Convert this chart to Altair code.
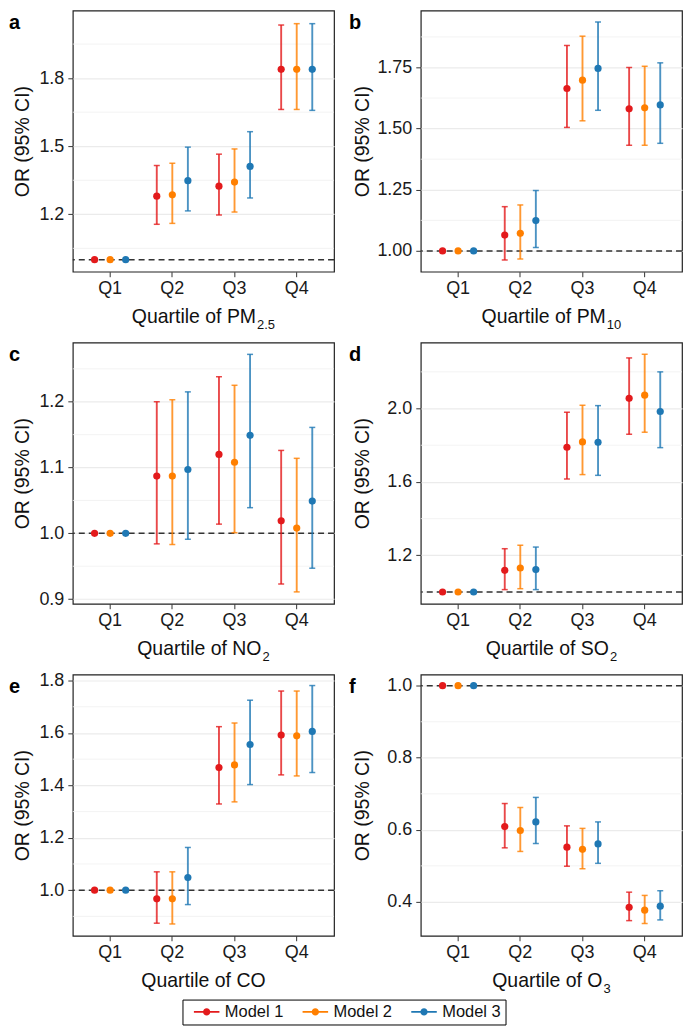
import altair as alt
import pandas as pd

quartiles = ["Q1", "Q2", "Q3", "Q4"]
models = ["Model 1", "Model 2", "Model 3"]
colors = ["#E31A1C", "#FF7F00", "#1F78B4"]
ref_value = [1.0]

# a: PM2.5
pm25_or = {"Model 1": [1.000, 1.280, 1.324, 1.839], "Model 2": [1.000, 1.286, 1.342, 1.839], "Model 3": [1.000, 1.348, 1.411, 1.839]}
pm25_lo = {"Model 1": [1.000, 1.156, 1.197, 1.662], "Model 2": [1.000, 1.160, 1.210, 1.662], "Model 3": [1.000, 1.215, 1.272, 1.658]}
pm25_hi = {"Model 1": [1.000, 1.415, 1.465, 2.034], "Model 2": [1.000, 1.425, 1.488, 2.040], "Model 3": [1.000, 1.496, 1.564, 2.040]}
# b: PM10
pm10_or = {"Model 1": [1.000, 1.065, 1.664, 1.581], "Model 2": [1.000, 1.072, 1.698, 1.585], "Model 3": [1.000, 1.124, 1.746, 1.597]}
pm10_lo = {"Model 1": [1.000, 0.963, 1.505, 1.432], "Model 2": [1.000, 0.967, 1.532, 1.432], "Model 3": [1.000, 1.014, 1.575, 1.440]}
pm10_hi = {"Model 1": [1.000, 1.181, 1.840, 1.750], "Model 2": [1.000, 1.188, 1.878, 1.755], "Model 3": [1.000, 1.247, 1.936, 1.769]}
# c: NO2
no2_or = {"Model 1": [1.000, 1.087, 1.120, 1.019], "Model 2": [1.000, 1.087, 1.108, 1.008], "Model 3": [1.000, 1.097, 1.149, 1.049]}
no2_lo = {"Model 1": [1.000, 0.984, 1.014, 0.923], "Model 2": [1.000, 0.983, 1.001, 0.911], "Model 3": [1.000, 0.991, 1.039, 0.947]}
no2_hi = {"Model 1": [1.000, 1.200, 1.238, 1.126], "Model 2": [1.000, 1.203, 1.225, 1.114], "Model 3": [1.000, 1.215, 1.272, 1.161]}
# d: SO2
so2_or = {"Model 1": [1.000, 1.118, 1.789, 2.056], "Model 2": [1.000, 1.131, 1.818, 2.073], "Model 3": [1.000, 1.122, 1.816, 1.984]}
so2_lo = {"Model 1": [1.000, 1.013, 1.616, 1.860], "Model 2": [1.000, 1.018, 1.640, 1.871], "Model 3": [1.000, 1.013, 1.636, 1.787]}
so2_hi = {"Model 1": [1.000, 1.236, 1.980, 2.276], "Model 2": [1.000, 1.255, 2.018, 2.296], "Model 3": [1.000, 1.245, 2.016, 2.200]}
# e: CO
co_or = {"Model 1": [1.000, 0.967, 1.468, 1.592], "Model 2": [1.000, 0.967, 1.478, 1.589], "Model 3": [1.000, 1.048, 1.556, 1.606]}
co_lo = {"Model 1": [1.000, 0.874, 1.329, 1.440], "Model 2": [1.000, 0.871, 1.337, 1.436], "Model 3": [1.000, 0.945, 1.403, 1.449]}
co_hi = {"Model 1": [1.000, 1.070, 1.624, 1.760], "Model 2": [1.000, 1.070, 1.638, 1.760], "Model 3": [1.000, 1.163, 1.725, 1.781]}
# f: O3
o3_or = {"Model 1": [1.000, 0.609, 0.552, 0.385], "Model 2": [1.000, 0.598, 0.546, 0.377], "Model 3": [1.000, 0.622, 0.561, 0.388]}
o3_lo = {"Model 1": [1.000, 0.550, 0.499, 0.348], "Model 2": [1.000, 0.540, 0.492, 0.340], "Model 3": [1.000, 0.562, 0.507, 0.350]}
o3_hi = {"Model 1": [1.000, 0.673, 0.611, 0.427], "Model 2": [1.000, 0.662, 0.604, 0.418], "Model 3": [1.000, 0.690, 0.622, 0.431]}

panels = [
    dict(letter="a", name="PM", sub="2.5", o=pm25_or, lo=pm25_lo, hi=pm25_hi,
         domain=[0.947, 2.098], ticks=[1.2, 1.5, 1.8], minor=[1.05, 1.35, 1.65, 1.95], fmt=".1f"),
    dict(letter="b", name="PM", sub="10", o=pm10_or, lo=pm10_lo, hi=pm10_hi,
         domain=[0.915, 1.983], ticks=[1.0, 1.25, 1.5, 1.75], minor=[1.125, 1.375, 1.625, 1.875], fmt=".2f"),
    dict(letter="c", name="NO", sub="2", o=no2_or, lo=no2_lo, hi=no2_hi,
         domain=[0.893, 1.290], ticks=[0.9, 1.0, 1.1, 1.2], minor=[0.95, 1.05, 1.15, 1.25], fmt=".1f"),
    dict(letter="d", name="SO", sub="2", o=so2_or, lo=so2_lo, hi=so2_hi,
         domain=[0.936, 2.36], ticks=[1.2, 1.6, 2.0], minor=[1.0, 1.4, 1.8, 2.2], fmt=".1f"),
    dict(letter="e", name="CO", sub="", o=co_or, lo=co_lo, hi=co_hi,
         domain=[0.826, 1.823], ticks=[1.0, 1.2, 1.4, 1.6, 1.8], minor=[0.9, 1.1, 1.3, 1.5, 1.7], fmt=".1f"),
    dict(letter="f", name="O", sub="3", o=o3_or, lo=o3_lo, hi=o3_hi,
         domain=[0.306, 1.031], ticks=[0.4, 0.6, 0.8, 1.0], minor=[0.5, 0.7, 0.9], fmt=".1f"),
]

W, H = 262, 262
FONT = "Liberation Sans"
TITLE_FS = 19.5
SUB_FS = 13
CW = {"Q": .778, "u": .556, "a": .556, "r": .333, "t": .278, "i": .222, "l": .222, "e": .556,
      " ": .278, "o": .556, "f": .278, "P": .667, "M": .833, "N": .722, "O": .778, "S": .667,
      "C": .722, "0": .556, "1": .556, "2": .556, "3": .556, "5": .556, ".": .278}


def twidth(s, fs):
    return sum(CW.get(c, .556) for c in s) * fs


LEG_PATH = ("M-1.6,-0.1L1.6,-0.1L1.6,0.1L-1.6,0.1Z"
            "M0.45,0A0.45,0.45,0,1,1,-0.45,0A0.45,0.45,0,1,1,0.45,0Z")


def panel(spec, col):
    rows = []
    for m in models:
        for i, q in enumerate(quartiles):
            rows.append({"Quartile": q, "Model": m, "OR": spec["o"][m][i],
                         "lo": spec["lo"][m][i], "hi": spec["hi"][m][i]})
    df = pd.DataFrame(rows)
    ext = 34 if col == 0 else 42
    yscale = alt.Scale(domain=spec["domain"], nice=False, zero=False)
    yaxis = alt.Axis(title="OR (95% CI)", values=spec["ticks"], format=spec["fmt"],
                     minExtent=ext, maxExtent=ext, titlePadding=6)
    x = alt.X("Quartile:N", sort=quartiles,
              scale=alt.Scale(type="band", paddingInner=0, paddingOuter=0.1),
              axis=alt.Axis(title=None, bandPosition=0.5, labelAngle=0, labelPadding=3))
    xoff = alt.XOffset("Model:N", sort=models, scale=alt.Scale(type="point", padding=2.68))
    # data-driven domains (ascending = model order) so these do not merge with the colour legend
    stroke = alt.Stroke("Model:N", scale=alt.Scale(range=colors), legend=None)
    fill = alt.Fill("Model:N", scale=alt.Scale(range=colors), legend=None)
    color_leg = alt.Color("Model:N", sort=models, scale=alt.Scale(domain=models, range=colors),
                          legend=alt.Legend(title=None, orient="none", legendX=110, legendY=992,
                                            direction="horizontal", symbolType=LEG_PATH,
                                            symbolSize=256, symbolOffset=12, labelOffset=10,
                                            columnPadding=11, padding=4, strokeColor="#000000",
                                            labelFontSize=16.5, labelColor="#111111",
                                            symbolStrokeWidth=0, symbolOpacity=1))

    minor = alt.Chart(pd.DataFrame({"v": spec["minor"]})).mark_rule(
        color="#F0F0F0", strokeWidth=0.8).encode(y=alt.Y("v:Q", scale=yscale, axis=yaxis))
    ref = alt.Chart(pd.DataFrame({"v": ref_value})).mark_rule(
        color="#333333", strokeWidth=1.5, strokeDash=[6, 4]).encode(
        y=alt.Y("v:Q", scale=yscale, axis=yaxis))
    base = alt.Chart(df)
    bars = base.mark_rule(strokeWidth=1.9, opacity=0.8).encode(
        x=x, xOffset=xoff, y=alt.Y("lo:Q", scale=yscale, axis=yaxis), y2="hi:Q", stroke=stroke)
    cap_hi = base.mark_tick(orient="horizontal", size=6, thickness=1.5, opacity=0.8).encode(
        x=x, xOffset=xoff, y=alt.Y("hi:Q", scale=yscale, axis=yaxis), fill=fill)
    cap_lo = base.mark_tick(orient="horizontal", size=6, thickness=1.5, opacity=0.8).encode(
        x=x, xOffset=xoff, y=alt.Y("lo:Q", scale=yscale, axis=yaxis), fill=fill)
    pts = base.mark_point(filled=True, size=52, opacity=1).encode(
        x=x, xOffset=xoff, y=alt.Y("OR:Q", scale=yscale, axis=yaxis), color=color_leg)

    main = "Quartile of " + spec["name"]
    mw = twidth(main, TITLE_FS)
    sw = twidth(spec["sub"], SUB_FS) + (1 if spec["sub"] else 0)
    xr = W / 2 - (mw + sw) / 2 + mw
    t_main = alt.Chart(pd.DataFrame({"t": [main]})).mark_text(
        align="right", baseline="alphabetic", fontSize=TITLE_FS, color="#111111").encode(
        text="t:N", x=alt.value(xr), y=alt.value(H + 51))
    layers = [minor, ref, bars, cap_hi, cap_lo, pts, t_main]
    if spec["sub"]:
        t_sub = alt.Chart(pd.DataFrame({"t": [spec["sub"]]})).mark_text(
            align="left", baseline="alphabetic", fontSize=SUB_FS, color="#111111").encode(
            text="t:N", x=alt.value(xr + 1), y=alt.value(H + 57))
        layers.append(t_sub)
    lx = -64 if col == 0 else -72
    t_letter = alt.Chart(pd.DataFrame({"t": [spec["letter"]]})).mark_text(
        align="left", baseline="alphabetic", fontSize=20, fontWeight="bold", color="#000000").encode(
        text="t:N", x=alt.value(lx), y=alt.value(19))
    layers.append(t_letter)
    return alt.layer(*layers).properties(width=W, height=H)


charts = [panel(p, i % 2) for i, p in enumerate(panels)]

chart = alt.concat(*charts, columns=2, spacing={"row": 71, "column": 87}, bounds="flush").properties(
    padding={"left": 0, "top": 0, "right": 0, "bottom": 0}
).configure(font=FONT).configure_view(
    stroke="#222222", strokeWidth=1.2
).configure_axis(
    labelFont=FONT, titleFont=FONT, labelFontSize=18, labelColor="#1a1a1a",
    titleFontSize=TITLE_FS, titleFontWeight="normal", titleColor="#111111",
    domain=False, tickSize=5, tickColor="#333333", tickWidth=1, labelPadding=4,
    gridColor="#EBEBEB", gridWidth=1.2
).configure_legend(labelFont=FONT)

chart.save("out.html", embed_options={"renderer": "svg", "actions": False})
